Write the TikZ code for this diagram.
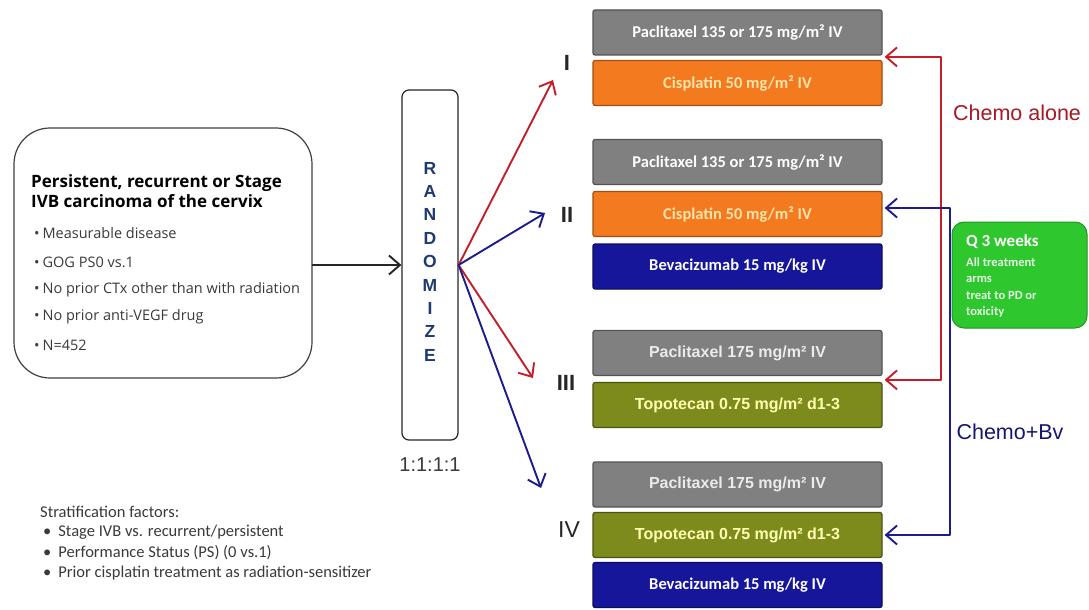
\documentclass[tikz,border=0pt]{standalone}
\usepackage{fontspec}
\setmainfont{Carlito}
\newfontfamily\arialf{Liberation Sans}
\newfontfamily\opensans{Open Sans}
\usetikzlibrary{arrows.meta}

\definecolor{boxgray}{HTML}{808080}
\definecolor{boxorange}{HTML}{F37A1F}
\definecolor{boxblue}{HTML}{16169A}
\definecolor{boxolive}{HTML}{7D8B1C}
\definecolor{boxgreen}{HTML}{2EC72E}
\definecolor{armred}{HTML}{C41E2A}
\definecolor{armblue}{HTML}{1C1C8C}
\definecolor{randblue}{HTML}{1F3A73}
\definecolor{txtgray}{HTML}{3A3A3A}

\begin{document}
\begin{tikzpicture}[x=1pt, y=-1pt, line join=round, line cap=round,
	drug/.style={minimum width=289pt, minimum height=45pt, inner sep=0pt, rounded corners=2pt, line width=1.2pt},
	paclbox/.style={drug, fill=boxgray, draw=boxgray!65!black, text=white, font=\bfseries\fontsize{16.5}{18}\selectfont},
	cisbox/.style={drug, fill=boxorange, draw=boxorange!65!black, text={rgb,255:red,255;green,228;blue,170}, font=\bfseries\fontsize{16.5}{18}\selectfont},
	bevbox/.style={drug, fill=boxblue, draw=boxblue!60!black, text=white, font=\bfseries\fontsize{16.5}{18}\selectfont},
	paclbtwo/.style={paclbox, text=white!92!black, font=\arialf\bfseries\fontsize{16}{18}\selectfont},
	topobox/.style={drug, fill=boxolive, draw=boxolive!60!black, text={rgb,255:red,255;green,255;blue,175}, font=\arialf\bfseries\fontsize{16}{18}\selectfont},
	armlbl/.style={font=\arialf\bfseries\fontsize{22}{24}\selectfont, text=black!85},
	bul/.style={anchor=west, inner sep=0pt, text=txtgray, font=\opensans\fontsize{14.5}{16}\selectfont},
	barb/.tip={Straight Barb[length=11pt,width=19pt]},
	fan/.style={line width=1.9pt, -barb},
	arm/.style={line width=1.9pt, barb-barb}]

	% white page
	\fill[white] (0,0) rectangle (1089,610);

	% eligibility box
	\node[draw=black!75, line width=1.2pt, rounded corners=36pt, minimum width=298pt, minimum height=250pt] (pbox) at (163,253) {};
	\node[anchor=west, inner sep=0pt, font=\opensans\bfseries\fontsize{17}{19}\selectfont] (ttl1) at (31,183) {Persistent, recurrent or Stage};
	\node[anchor=west, inner sep=0pt, font=\opensans\bfseries\fontsize{17}{19}\selectfont] (ttl2) at (31,201) {IVB carcinoma of the cervix};
	\foreach \t/\y [count=\i] in {Measurable disease/233, GOG PS0 vs.1/262, No prior CTx other than with radiation/290, No prior anti-VEGF drug/317, N=452/345}
		\node[bul] (b\i) at (34,\y) {\textbullet\hspace{3pt}\t};

	% randomisation
	\node[draw=black!85, line width=1.2pt, rounded corners=7pt, minimum width=56pt, minimum height=350pt] (rand) at (430,265) {};
	\foreach \l [count=\i] in {R,A,N,D,O,M,I,Z,E}
		\node[text=randblue, font=\arialf\bfseries\fontsize{17.5}{18}\selectfont] (r\i) at (430,{168+23.4*(\i-1)}) {\l};
	\node[text=txtgray, font=\arialf\fontsize{20}{22}\selectfont] (ratio) at (430,465) {1:1:1:1};
	\draw[fan, black!85] (rand.west -| pbox.east) -- (rand.west);

	% arms
	\node[armlbl] (gI) at (567,63) {I};
	\node[armlbl] (gII) at (567,215) {II};
	\node[armlbl] (gIII) at (566,383) {III};
	\node[armlbl, font=\arialf\fontsize{23}{24}\selectfont] (gIV) at (569,530) {IV};
	\coordinate (tI) at (553,80);
	\coordinate (tII) at (545,213);
	\coordinate (tIII) at (533,378);
	\coordinate (tIV) at (541,488);
	\draw[fan, armred] (rand.east) -- (tI);
	\draw[fan, armblue] (rand.east) -- (tII);
	\draw[fan, armred] (rand.east) -- (tIII);
	\draw[fan, armblue] (rand.east) -- (tIV);

	% regimens
	\node[paclbox] (p1) at (737.5,32.5) {Paclitaxel 135 or 175 mg/m² IV};
	\node[cisbox] (c1) at (737.5,83) {Cisplatin 50 mg/m² IV};
	\node[paclbox] (p2) at (737.5,162) {Paclitaxel 135 or 175 mg/m² IV};
	\node[cisbox] (c2) at (737.5,214) {Cisplatin 50 mg/m² IV};
	\node[bevbox] (v2) at (737.5,266.5) {Bevacizumab 15 mg/kg IV};
	\node[paclbtwo] (p3) at (737.5,353) {Paclitaxel 175 mg/m² IV};
	\node[topobox] (t3) at (737.5,405) {Topotecan 0.75 mg/m² d1-3};
	\node[paclbtwo] (p4) at (737.5,484.5) {Paclitaxel 175 mg/m² IV};
	\node[topobox] (t4) at (737.5,535) {Topotecan 0.75 mg/m² d1-3};
	\node[bevbox] (v4) at (737.5,585) {Bevacizumab 15 mg/kg IV};

	% brackets
	\draw[arm, armred] ([xshift=2pt,yshift=3pt]c1.north east) -- ++(56pt,0) |- ([xshift=2pt,yshift=2pt]t3.north east);
	\draw[arm, armblue] ([xshift=2pt,yshift=6pt]c2.east) -- ++(65pt,0) |- ([xshift=2pt]t4.east);
	\node[text=armred!85!black, font=\arialf\fontsize{21.5}{23}\selectfont] (chemo) at (1017,113) {Chemo alone};
	\node[text=armblue!80!black, font=\arialf\fontsize{21.5}{23}\selectfont] (chemobv) at (1010,432) {Chemo+Bv};

	% schedule box
	\node[fill=boxgreen, draw=boxgreen!75!black, line width=1pt, rounded corners=12pt, minimum width=135pt, minimum height=106pt] (q3) at (1019.5,275) {};
	\node[anchor=west, inner sep=0pt, text=white, font=\bfseries\fontsize{17}{18}\selectfont] (qhd) at (966,242) {Q 3 weeks};
	\foreach \t/\y [count=\i] in {All treatment/262, arms/279, treat to PD or/295, toxicity/312}
		\node[anchor=west, inner sep=0pt, text=white!88!boxgreen, font=\bfseries\fontsize{12.5}{13}\selectfont] (q\i) at (966,\y) {\t};

	% stratification
	\node[anchor=west, inner sep=0pt, text=txtgray, font=\fontsize{16.5}{18}\selectfont] (strat) at (40,512) {Stratification factors:};
	\foreach \t [count=\i] in {Stage IVB vs. recurrent/persistent, Performance Status (PS) (0 vs.1), Prior cisplatin treatment as radiation-sensitizer}
		\node[anchor=west, inner sep=0pt, text=txtgray, font=\fontsize{16.5}{18}\selectfont] (s\i) at (43,{532+20.5*(\i-1)}) {\textbullet\hspace{7pt}\t};
\end{tikzpicture}
\end{document}
